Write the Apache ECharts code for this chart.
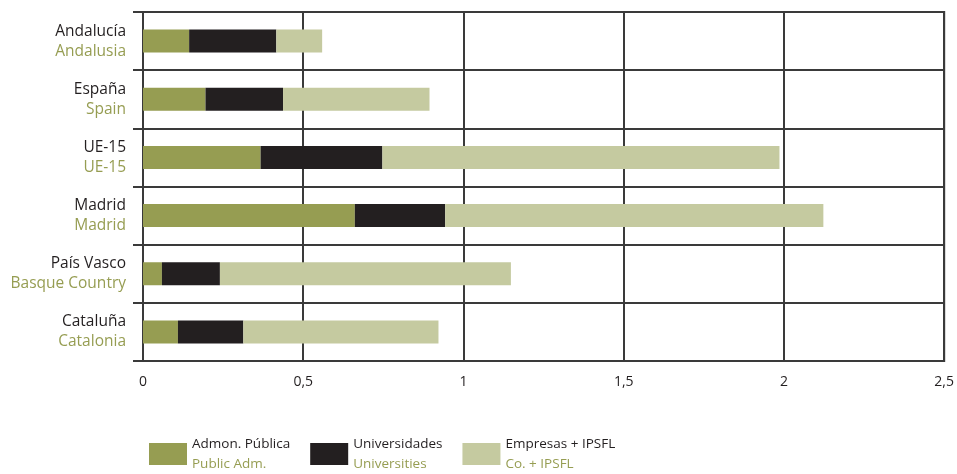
<!DOCTYPE html>
<html><head><meta charset="utf-8">
<script src="https://cdn.jsdelivr.net/npm/echarts@6/dist/echarts.min.js"></script>
<style>html,body{margin:0;padding:0;background:#fff}#c{width:957px;height:474px}</style>
</head><body><div id="c"></div>
<script>
const categoriesEs = ['Andalucía','España','UE-15','Madrid','País Vasco','Cataluña'];
const categoriesEn = ['Andalusia','Spain','UE-15','Madrid','Basque Country','Catalonia'];
const seriesNamesEs = ['Admon. Pública','Universidades','Empresas + IPSFL'];
const seriesNamesEn = ['Public Adm.','Universities','Co. + IPSFL'];
const publicAdm = [0.144, 0.195, 0.367, 0.661, 0.059, 0.109];
const universities = [0.272, 0.242, 0.380, 0.282, 0.181, 0.204];
const companies = [0.143, 0.457, 1.239, 1.180, 0.908, 0.609];
const xTicks = [0, 0.5, 1, 1.5, 2, 2.5];

const colors = ['#969d52', '#231f20', '#c5caa0'];
const dark = '#231f20', olive = '#969d52', lineC = '#3a3a3a';
const font = 'Open Sans';
const chart = echarts.init(document.getElementById('c'));
const values = [publicAdm, universities, companies];
chart.setOption({
  animation: false,
  textStyle: {fontFamily: font},
  grid: {left: 143, right: 8, top: 12, bottom: 113, show: true, borderColor: lineC, borderWidth: 2, containLabel: false},
  legend: {
    left: 149, top: 437, padding: 0, itemWidth: 38, itemHeight: 22, itemGap: 20, icon: 'rect',
    data: seriesNamesEs,
    formatter: n => '{a|' + n + '}\n{b|' + seriesNamesEn[seriesNamesEs.indexOf(n)] + '}',
    textStyle: {rich: {
      a: {fontFamily: font, fontSize: 13.5, color: dark, lineHeight: 20},
      b: {fontFamily: font, fontSize: 13.5, color: olive, lineHeight: 20}
    }}
  },
  xAxis: {
    type: 'value', min: xTicks[0], max: xTicks[xTicks.length-1], interval: 0.5,
    axisLine: {show: false}, axisTick: {show: false},
    splitLine: {show: true, lineStyle: {color: lineC, width: 2}},
    axisLabel: {margin: 14, fontSize: 14, color: dark, fontFamily: font,
      formatter: v => String(v).replace('.', ',')}
  },
  yAxis: {
    type: 'category', inverse: true, data: categoriesEs,
    axisLine: {show: true, lineStyle: {color: lineC, width: 2}},
    axisTick: {show: true, length: 10, lineStyle: {color: lineC, width: 2}},
    splitLine: {show: true, lineStyle: {color: lineC, width: 2}},
    axisLabel: {margin: 17, align: 'right',
      formatter: (v, i) => '{a|' + v + '}\n{b|' + categoriesEn[i] + '}',
      rich: {
        a: {fontFamily: font, fontSize: 15.5, color: dark, lineHeight: 20, align: 'right'},
        b: {fontFamily: font, fontSize: 15.5, color: olive, lineHeight: 20, align: 'right'}
      }}
  },
  series: values.map((d, i) => ({
    name: seriesNamesEs[i], type: 'bar', stack: 'total', barWidth: 23,
    itemStyle: {color: colors[i]}, data: d
  }))
});
</script></body></html>
